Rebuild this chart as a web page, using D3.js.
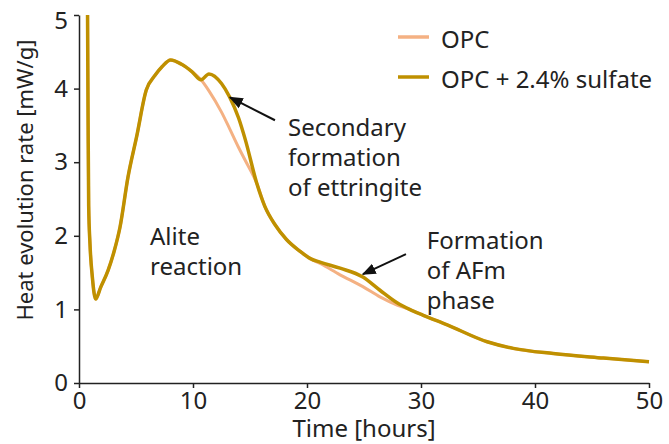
<!DOCTYPE html>
<html>
<head>
<meta charset="utf-8">
<script src="https://cdn.jsdelivr.net/npm/d3@7"></script>
<style>
  body { margin: 0; background: #fff; }
  text { font-family: "Noto Sans", sans-serif; fill: #222; }
  .axis path, .axis line { stroke: #222; stroke-width: 1.5; }
  .axis text { font-size: 24px; font-family: "Noto Sans", sans-serif; fill: #222; }
</style>
</head>
<body>
<script>
// hours and heat-flow values
const hours = [0.75, 0.8, 0.85, 0.96, 1.17, 1.46, 1.9, 2.55, 3.1, 3.6, 4.3, 5.06, 5.9, 6.67, 7.3, 8.04, 9.0, 9.9, 10.7,
  11.4, 12.5, 13.2, 14.0, 14.6, 15.6, 16.3, 17.2, 18.2, 19.3, 20.3, 21.2, 22.9, 24.9, 26.4, 27.9, 29.0, 30.2, 32.3,
  35.8, 38.1, 41.6, 46, 50];
const opc = [5.0, 3.5, 2.4, 1.9, 1.44, 1.14, 1.3, 1.53, 1.8, 2.12, 2.8, 3.35, 3.98, 4.18, 4.3, 4.39, 4.33, 4.23, 4.12,
  3.97, 3.68, 3.46, 3.2, 3.02, 2.71, 2.40, 2.15, 1.95, 1.8, 1.69, 1.62, 1.47, 1.31, 1.17, 1.06, 1.0, 0.92, 0.79,
  0.56, 0.47, 0.40, 0.34, 0.29];
const sulfate = [5.0, 3.5, 2.4, 1.9, 1.44, 1.14, 1.3, 1.53, 1.8, 2.12, 2.8, 3.35, 3.98, 4.18, 4.3, 4.39, 4.33, 4.23, 4.12,
  4.2, 4.07, 3.89, 3.6, 3.3, 2.71, 2.40, 2.15, 1.95, 1.8, 1.69, 1.64, 1.56, 1.44, 1.26, 1.09, 1.0, 0.92, 0.79,
  0.56, 0.47, 0.40, 0.34, 0.29];

const seriesNames = ['OPC', 'OPC + 2.4% sulfate'];
const seriesColors = ['#f4b183', '#bf9000'];
const xTicks = [0, 10, 20, 30, 40, 50];
const yTicks = [0, 1, 2, 3, 4, 5];

const width = 669, height = 444;
const plotLeft = 79, plotRight = 649, plotTop = 15, plotBottom = 383;

const svg = d3.select('body').append('svg')
  .attr('width', width)
  .attr('height', height);

const x = d3.scaleLinear().domain([0, 50]).range([plotLeft, plotRight]);
const y = d3.scaleLinear().domain([0, 5]).range([plotBottom, plotTop]);

svg.append('g')
  .attr('class', 'axis')
  .attr('transform', 'translate(0,' + plotBottom + ')')
  .call(d3.axisBottom(x).tickValues(xTicks).tickFormat(d3.format('d'))
    .tickSize(5).tickSizeOuter(0).tickPadding(4));

svg.append('g')
  .attr('class', 'axis')
  .attr('transform', 'translate(' + plotLeft + ',0)')
  .call(d3.axisLeft(y).tickValues(yTicks).tickFormat(d3.format('d'))
    .tickSize(5).tickSizeOuter(0).tickPadding(6))
  .selectAll('.tick text')
  .filter((d) => d == 5)
  .attr('dy', '0.58em');

svg.append('text')
  .attr('x', x(25))
  .attr('y', 437)
  .attr('text-anchor', 'middle')
  .style('font-size', '24px')
  .text('Time [hours]');

svg.append('text')
  .attr('transform', 'translate(33,180) rotate(-90)')
  .attr('text-anchor', 'middle')
  .style('font-size', '22px')
  .text('Heat evolution rate [mW/g]');

const line = (vals) => d3.line()
  .x((d, i) => x(hours[i]))
  .y((d) => y(d))
  .curve(d3.curveMonotoneX)(vals);

[opc, sulfate].forEach(function(vals, i) {
  svg.append('path')
    .attr('d', line(vals))
    .attr('fill', 'none')
    .attr('stroke', seriesColors[i])
    .attr('stroke-width', i == 0 ? 3 : 3.5)
    .attr('stroke-linejoin', 'round');
});

// legend
seriesNames.forEach(function(name, i) {
  const ly = 37 + i * 40;
  svg.append('line')
    .attr('x1', 398).attr('x2', 429)
    .attr('y1', ly).attr('y2', ly)
    .attr('stroke', seriesColors[i])
    .attr('stroke-width', 3.5);
  svg.append('text')
    .attr('x', 441)
    .attr('y', ly + 11)
    .style('font-size', '24px')
    .text(name);
});

// annotations
svg.append('defs').append('marker')
  .attr('id', 'head')
  .attr('viewBox', '0 0 10 10')
  .attr('refX', 9).attr('refY', 5)
  .attr('markerWidth', 7).attr('markerHeight', 7)
  .attr('orient', 'auto')
  .append('path')
  .attr('d', 'M0,1 L10,5 L0,9 Z')
  .attr('fill', '#111');

const arrows = [
  [[17.19, 3.57], [13.25, 3.88]],
  [[28.68, 1.75], [24.91, 1.48]]
];
arrows.forEach(function(a) {
  svg.append('line')
    .attr('x1', x(a[0][0])).attr('y1', y(a[0][1]))
    .attr('x2', x(a[1][0])).attr('y2', y(a[1][1]))
    .attr('stroke', '#111')
    .attr('stroke-width', 2)
    .attr('marker-end', 'url(#head)');
});

const notes = [
  [['Secondary', 'formation', 'of ettringite'], 18.33, 3.35],
  [['Formation', 'of AFm', 'phase'], 30.5, 1.82],
  [['Alite', 'reaction'], 6.23, 1.875]
];
notes.forEach(function(n) {
  const t = svg.append('text')
    .attr('x', x(n[1]))
    .attr('y', y(n[2]))
    .style('font-size', '24px');
  n[0].forEach(function(s, i) {
    t.append('tspan')
      .attr('x', x(n[1]))
      .attr('dy', i == 0 ? 0 : 30)
      .text(s);
  });
});
</script>
</body>
</html>
